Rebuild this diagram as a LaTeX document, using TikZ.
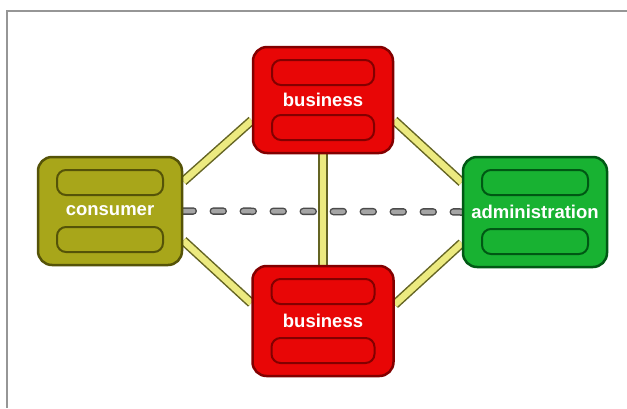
\documentclass[tikz,border=0pt]{standalone}
\usepackage{fontspec}
\setmainfont{Liberation Sans}
\usetikzlibrary{calc}
\pgfdeclarelayer{back}
\pgfdeclarelayer{bg}
\pgfsetlayers{back,bg,main}
\definecolor{redfill}{RGB}{232,6,6}
\definecolor{reddark}{RGB}{130,0,0}
\definecolor{olivefill}{RGB}{168,166,26}
\definecolor{olivedark}{RGB}{85,83,8}
\definecolor{greenfill}{RGB}{24,178,50}
\definecolor{greendark}{RGB}{0,88,20}
\definecolor{linkfill}{RGB}{236,234,128}
\definecolor{linkdark}{RGB}{100,100,35}
\definecolor{dashfill}{RGB}{165,165,165}
\definecolor{dashdark}{RGB}{75,75,75}
\definecolor{framegray}{RGB}{150,150,150}
\begin{document}
\begin{tikzpicture}[x=1pt,y=-1pt,
  box/.style args={#1/#2}{rectangle, rounded corners=14pt, fill=#1, draw=#2,
    line width=2.5pt, text=white, inner sep=0pt,
    font=\bfseries\fontsize{18.5}{18.5}\selectfont,
    path picture={
      \coordinate (pnw) at (path picture bounding box.north west);
      \coordinate (pse) at (path picture bounding box.south east);
      \draw[#2, line width=2pt, rounded corners=9pt]
        ($(pnw)+(19,13)$) rectangle ($(pse|-pnw)+(-19,38)$);
      \draw[#2, line width=2pt, rounded corners=9pt]
        ($(pnw|-pse)+(19,-38)$) rectangle ($(pse)+(-19,-13)$);
    }},
  link/.style={draw=linkdark, line width=1.5pt, double=linkfill, double distance=6.5pt},
  dashout/.style={dashdark, line width=7.5pt, line cap=round, dash pattern=on 10pt off 20pt},
  dashin/.style={dashfill, line width=4.5pt, line cap=round, dash pattern=on 10pt off 20pt}
]
\useasboundingbox (0,0) rectangle (627,408);
\begin{pgfonlayer}{back}
\fill[white] (0,0) rectangle (627,408);
\draw[framegray, line width=1.5pt] (627,11) -- (7,11) -- (7,408);
\end{pgfonlayer}

\node[box=redfill/reddark, minimum width=140pt, minimum height=106pt] (btop) at (323,100) {business};
\node[box=redfill/reddark, minimum width=141pt, minimum height=110pt] (bbot) at (323,321) {business};
\node[box=olivefill/olivedark, minimum width=144pt, minimum height=108pt] (cons) at (110,211) {consumer};
\node[box=greenfill/greendark, minimum width=144pt, minimum height=110pt] (admin) at (535,212) {administration};

\begin{pgfonlayer}{bg}
\draw[dashout] (cons.east) -- (admin.west);
\draw[dashin] (cons.east) -- (admin.west);
\draw[link] (cons.22) -- (btop.196);
\draw[link] (btop.-16) -- (admin.158);
\draw[link] (cons.-22) -- (bbot.166);
\draw[link] (bbot.13) -- (admin.-157);
\draw[link] (btop.south) -- (bbot.north);
\end{pgfonlayer}
\end{tikzpicture}
\end{document}
